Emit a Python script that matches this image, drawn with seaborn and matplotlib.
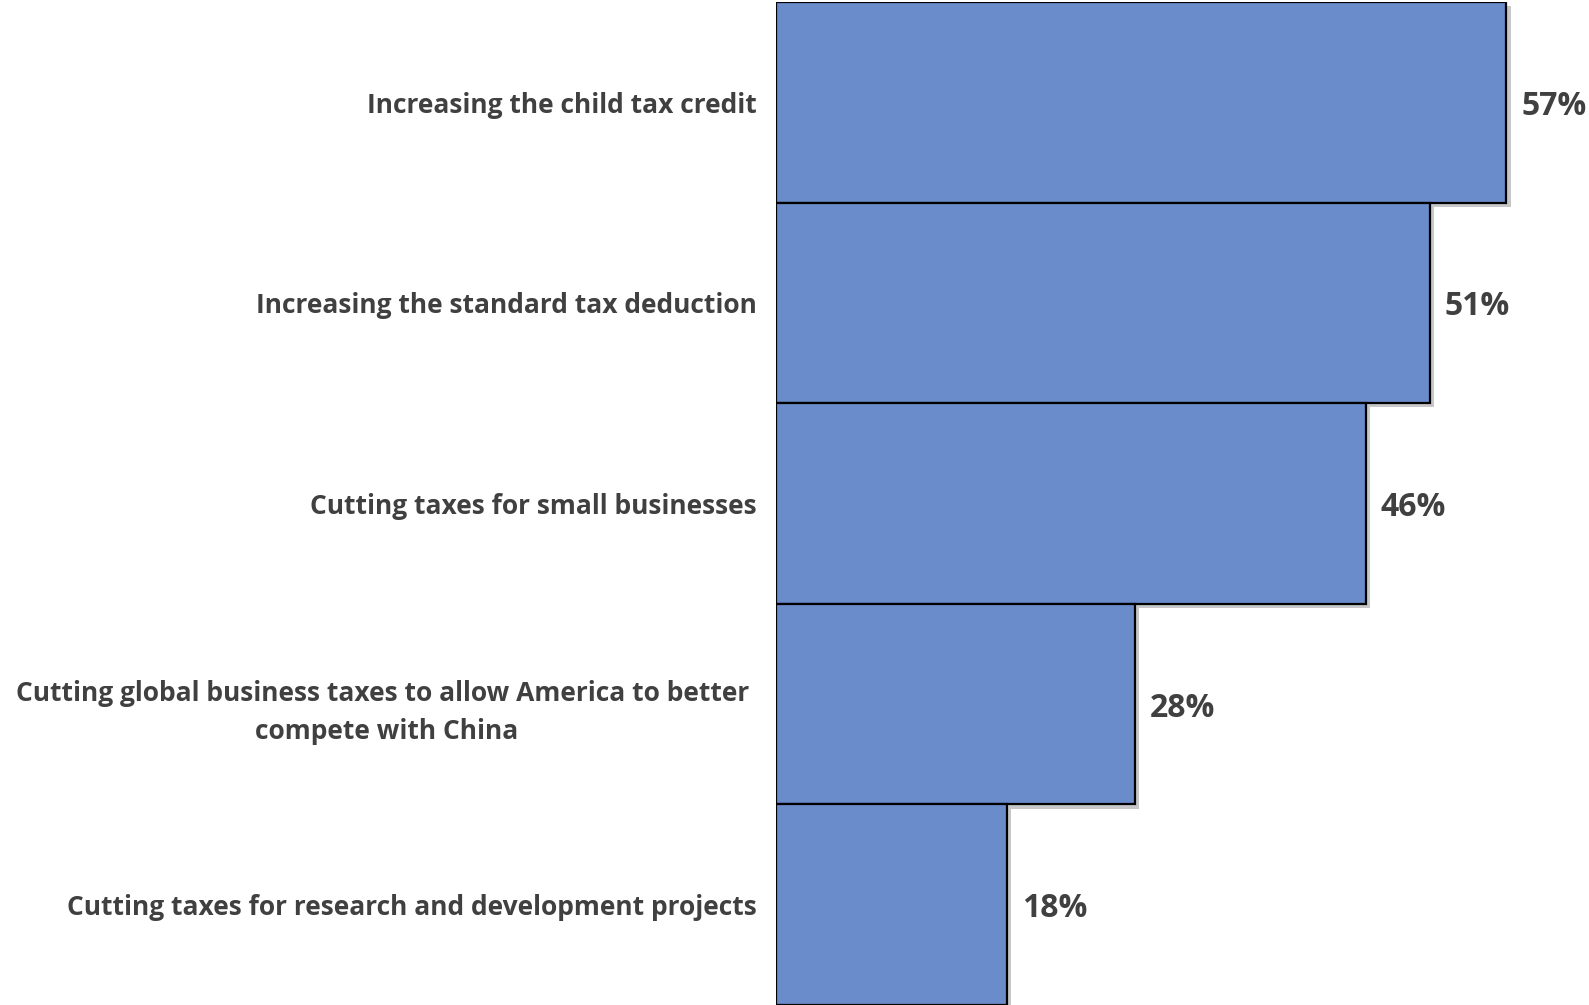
import matplotlib
matplotlib.use("Agg")
import matplotlib.pyplot as plt
import matplotlib.patheffects as pe
import seaborn as sns
import pandas as pd

categories = [
    "Increasing the child tax credit",
    "Increasing the standard tax deduction",
    "Cutting taxes for small businesses",
    "Cutting global business taxes to allow America to better \ncompete with China",
    "Cutting taxes for research and development projects",
]
values = [57, 51, 46, 28, 18]
value_labels = ["57%", "51%", "46%", "28%", "18%"]

sns.set_theme(style="white")
plt.rcParams["font.family"] = ["Open Sans", "DejaVu Sans"]

df = pd.DataFrame({"cat": categories, "val": values})

fig = plt.figure(figsize=(15.89, 10.05), dpi=100)
ax = fig.add_axes([0.4884, 0.0, 0.5, 0.998])

sns.barplot(data=df, x="val", y="cat", orient="h", width=1.0,
            color="#6A8CCA", saturation=1, edgecolor="black", linewidth=1.6, ax=ax)

for p in ax.patches:
    p.set_path_effects([pe.SimplePatchShadow(offset=(3, -3), shadow_rgbFace="#909090", alpha=0.5),
                        pe.Normal()])

labels = ax.bar_label(ax.containers[0], labels=value_labels, padding=11,
                      fontsize=23, fontweight="bold", color="#404040")
for t in labels:
    t.set_va("center_baseline")

ax.set_xlim(0, 62.0)
ax.set_ylim(4.5, -0.5)
ax.set_xlabel("")
ax.set_ylabel("")
ax.set_xticks([])
for s in ax.spines.values():
    s.set_visible(False)
ax.tick_params(axis="y", length=0, pad=14)
for t in ax.get_yticklabels():
    t.set_fontsize(19)
    t.set_fontweight("bold")
    t.set_color("#404040")
    t.set_multialignment("center")
    t.set_linespacing(1.5)

fig.savefig("out.png", dpi=100, facecolor="white")
